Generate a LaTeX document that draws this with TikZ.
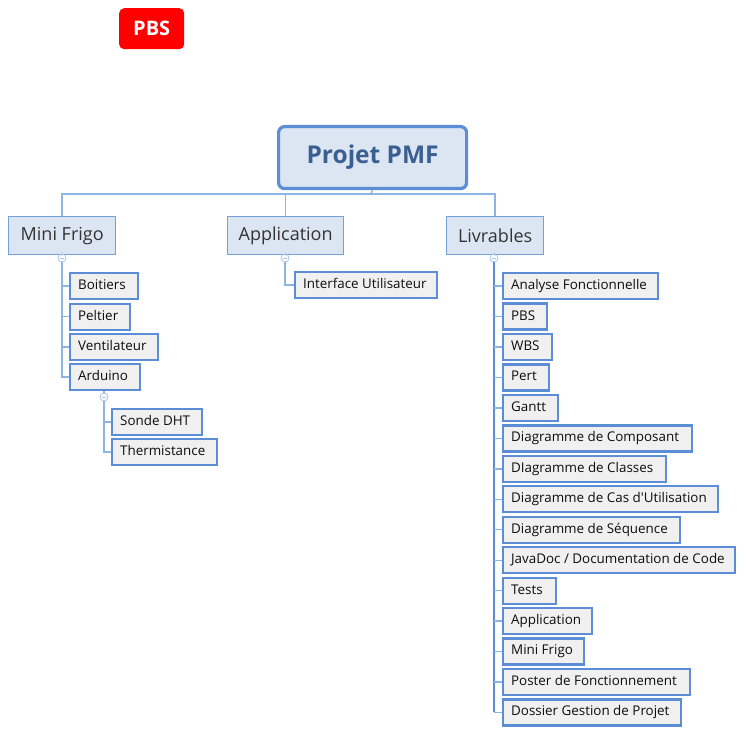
\documentclass[tikz,border=0pt]{standalone}
\usepackage{fontspec}
\setmainfont{Open Sans}
\definecolor{boxblue}{HTML}{DCE6F2}
\definecolor{bordblue}{HTML}{5B8ED6}
\definecolor{l1border}{HTML}{75A0DA}
\definecolor{linelight}{HTML}{8EB4E3}
\definecolor{circblue}{HTML}{A9C4EA}
\definecolor{roottext}{HTML}{3B5F91}
\definecolor{subfill}{HTML}{F0F0F0}
\definecolor{pbsred}{HTML}{FF0000}
\newcommand\lbx[2]{\makebox[#1pt][l]{#2}}
\tikzset{
  rootbox/.style={draw=bordblue, line width=3.2pt, fill=boxblue, rounded corners=6pt,
    anchor=north west, minimum width=188pt, minimum height=62pt, inner sep=0pt,
    text=roottext, font=\fontsize{24.5}{29}\selectfont\bfseries},
  lonebox/.style={draw=l1border, line width=1.3pt, fill=boxblue, anchor=north west,
    minimum height=38pt, inner sep=0pt, text=black!80, font=\fontsize{18}{21}\selectfont},
  subbox/.style={draw=bordblue, line width=2.3pt, fill=subfill, anchor=north west,
    minimum height=26pt, inner xsep=8pt, inner ysep=0pt, text height=9.8pt, text depth=3pt,
    text=black!95, font=\fontsize{13.4}{16}\selectfont},
  coll/.style={circle, draw=circblue, fill=white, line width=0.8pt, minimum size=8pt, inner sep=0pt,
    path picture={\draw[circblue, line width=0.8pt] ([xshift=-2.3pt]path picture bounding box.center) -- ([xshift=2.3pt]path picture bounding box.center);}},
  conn/.style={draw=linelight, line width=1.4pt},
  darkconn/.style={draw=bordblue, line width=2pt},
  badge/.style={fill=pbsred, rounded corners=5pt, anchor=north west, minimum width=65pt,
    minimum height=41pt, inner sep=0pt, text=white, font=\fontsize{20}{24}\selectfont\bfseries}
}
\begin{document}
\begin{tikzpicture}[x=1pt, y=-1pt]
\useasboundingbox (0,0) rectangle (747,730);
\node[badge] (pbs) at (119,8) {PBS};
% root
\node[rootbox] (root) at (277,125) {Projet PMF};
% level 1
\node[lonebox, minimum width=107pt] (mf) at (8,216) {Mini Frigo};
\node[lonebox, minimum width=116pt] (app) at (227,216) {Application};
\node[lonebox, minimum width=97pt] (liv) at (446,216) {Livrables};
\coordinate (bus) at (371,194);
\draw[conn] (root.south) -- (bus);
\draw[conn] (bus) -| (mf.north);
\draw[conn] (bus) -| (app.north);
\draw[conn] (bus) -| (liv.north);
% collapse markers
\node[coll] (cmf) at (62,258) {};
\node[coll] (capp) at (285,258) {};
\node[coll] (cliv) at (494,258) {};
% Mini Frigo children
\node[subbox] (boit) at (69,272) {\lbx{52}{Boitiers}};
\node[subbox] (pelt) at (69,302.5) {\lbx{44}{Peltier}};
\node[subbox] (vent) at (69,333) {\lbx{72}{Ventilateur}};
\node[subbox] (ard) at (69,363) {\lbx{54}{Arduino}};
\node[coll] (card) at (104,397) {};
\node[subbox] (dht) at (111,408) {\lbx{74}{Sonde DHT}};
\node[subbox] (therm) at (111,438) {\lbx{89}{Thermistance}};
% Application child
\node[subbox] (iu) at (294,271) {\lbx{126}{Interface Utilisateur}};
% Livrables children
\node[subbox] (l1) at (502,272.0) {\lbx{139}{Analyse Fonctionnelle}};
\node[subbox] (l2) at (502,302.45) {\lbx{28}{PBS}};
\node[subbox] (l3) at (502,332.9) {\lbx{33}{WBS}};
\node[subbox] (l4) at (502,363.35) {\lbx{30}{Pert}};
\node[subbox] (l5) at (502,393.8) {\lbx{39}{Gantt}};
\node[subbox] (l6) at (502,424.25) {\lbx{173}{Diagramme de Composant}};
\node[subbox] (l7) at (502,454.7) {\lbx{147}{DIagramme de Classes}};
\node[subbox] (l8) at (502,485.15) {\lbx{199}{Diagramme de Cas d\textquotesingle Utilisation}};
\node[subbox] (l9) at (502,515.6) {\lbx{161}{Diagramme de Séquence}};
\node[subbox] (l10) at (502,546.05) {\lbx{216}{JavaDoc / Documentation de Code}};
\node[subbox] (l11) at (502,576.5) {\lbx{37}{Tests}};
\node[subbox] (l12) at (502,606.95) {\lbx{73}{Application}};
\node[subbox] (l13) at (502,637.4) {\lbx{65}{Mini Frigo}};
\node[subbox] (l14) at (502,667.85) {\lbx{171}{Poster de Fonctionnement}};
\node[subbox] (l15) at (502,698.3) {\lbx{162}{Dossier Gestion de Projet}};
% connectors level 1 -> markers
\draw[conn] (mf.south) -- (cmf.north);
\draw[conn] (app.south) -- (capp.north);
\draw[conn] (liv.south) -- (cliv.north);
% Mini Frigo tree
\foreach \n in {boit,pelt,vent,ard} \draw[conn] (cmf.south) |- (\n.west);
\draw[conn] (ard.south -| card) -- (card.north);
\foreach \n in {dht,therm} \draw[conn] (card.south) |- (\n.west);
% Application tree
\draw[conn] (capp.south) |- (iu.west);
% Livrables tree
\draw[darkconn] (cliv.south) -- (cliv.south |- l15.west);
\foreach \n in {l1,l2,l3,l4,l5,l6,l7,l8,l9,l10,l11,l12,l13,l14,l15}
  \draw[conn] (cliv.south |- \n.west) -- (\n.west);
\end{tikzpicture}
\end{document}
